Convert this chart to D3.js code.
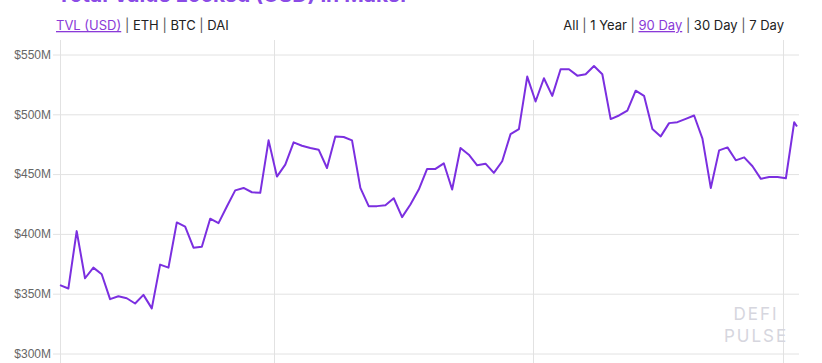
<!DOCTYPE html>
<html>
<head>
<meta charset="utf-8">
<script src="https://cdn.jsdelivr.net/npm/d3@7"></script>
<style>
  body { margin: 0; background: #fff; }
  svg { display: block; }
  .tick text { font-family: "Liberation Sans", Arial, sans-serif; font-size: 12px; fill: #666; }
  .nav { font-family: Inter, "Noto Sans", sans-serif; font-size: 13px; fill: #222; }
  .nav .on { fill: #8a3ad8; text-decoration: underline; }
  .nav .sep { fill: #555; }
</style>
</head>
<body>
<script>
// daily TVL in USD millions, 90 day view (last point is the live value)
var startTime = new Date("2019-09-05T08:00:00Z");
var liveTime = new Date("2019-12-02T16:00:00Z");
var tvl = [
  356.7, 353.9, 401.9, 362.5, 371.4, 365.8, 345.0, 347.5, 345.8, 341.4,
  348.6, 337.3, 373.9, 371.4, 409.2, 405.6, 388.1, 388.9, 412.3, 408.6,
  422.5, 436.0, 438.0, 434.4, 433.9, 477.8, 447.5, 457.5, 476.1, 473.3,
  471.4, 470.0, 454.7, 481.1, 480.6, 477.8, 438.0, 422.8, 422.8, 423.6,
  429.4, 413.6, 424.2, 436.7, 453.9, 453.9, 458.6, 436.7, 471.4, 465.8,
  456.9, 458.3, 450.6, 460.3, 483.0, 487.2, 531.1, 510.3, 529.7, 515.0,
  537.2, 537.2, 531.9, 533.1, 540.0, 533.1, 495.6, 498.6, 502.7, 519.3,
  515.0, 487.2, 481.1, 492.2, 493.0, 495.8, 498.6, 479.2, 438.0, 469.4,
  471.9, 461.1, 463.6, 456.1, 445.6, 447.2, 447.2, 446.1, 493.0, 489.4
];
var yTicks = [300, 350, 400, 450, 500, 550];
var currencyTabs = ["TVL (USD)", "ETH", "BTC", "DAI"];
var rangeTabs = ["All", "1 Year", "90 Day", "30 Day", "7 Day"];
var activeCurrency = "TVL (USD)";
var activeRange = "90 Day";

var data = tvl.map(function(v, i) {
  var t = i < tvl.length - 1 ? d3.utcDay.offset(startTime, i) : liveTime;
  return { t: t, v: v };
});

var W = 822, H = 363;
var svg = d3.select("body").append("svg").attr("width", W).attr("height", H);

var x = d3.scaleUtc().domain([startTime, liveTime]).range([60, 797]);
var y = d3.scaleLinear().domain([300, 550]).range([353, 54]);

// page title, scrolled mostly out of view
svg.append("text")
  .attr("x", 57).attr("y", 1.5)
  .attr("font-family", "Inter, sans-serif").attr("font-size", 21).attr("font-weight", 700)
  .attr("fill", "#8a4be6")
  .text("Total Value Locked (USD) in Maker");

// horizontal grid + y labels
var yAxis = svg.append("g").attr("transform", "translate(60,0.5)")
  .call(d3.axisLeft(y).tickValues(yTicks).tickSize(7).tickPadding(2)
    .tickFormat(function(d) { return "$" + d + "M"; }));
yAxis.select(".domain").remove();
yAxis.selectAll(".tick line").attr("stroke", "#e2e2e2")
  .attr("x1", -7).attr("x2", 739);

// vertical grid at month starts
svg.append("g").selectAll("line")
  .data(d3.utcMonth.range(startTime, liveTime))
  .join("line")
  .attr("x1", function(d) { return Math.round(x(d)) + 0.5; })
  .attr("x2", function(d) { return Math.round(x(d)) + 0.5; })
  .attr("y1", 40).attr("y2", H)
  .attr("stroke", "#e2e2e2");
svg.append("line").attr("x1", 60.5).attr("x2", 60.5).attr("y1", 40).attr("y2", H)
  .attr("stroke", "#e2e2e2");

// watermark
var wm = svg.append("g").attr("font-family", "Inter, sans-serif").attr("font-size", 17)
  .attr("fill", "#d6d6de").attr("text-anchor", "middle").attr("letter-spacing", 2);
wm.append("text").attr("x", 756).attr("y", 320).text("DEFI");
wm.append("text").attr("x", 756).attr("y", 342).text("PULSE");

// line
svg.append("path").datum(data)
  .attr("fill", "none")
  .attr("stroke", "#7b2fe0")
  .attr("stroke-width", 2)
  .attr("stroke-linejoin", "round")
  .attr("d", d3.line().x(function(d) { return x(d.t); }).y(function(d) { return y(d.v); }));

// tab rows
function tabs(list, active, xPos, anchor) {
  var t = svg.append("text").attr("class", "nav").attr("x", xPos).attr("y", 30)
    .attr("text-anchor", anchor);
  list.forEach(function(name, i) {
    if (i > 0) t.append("tspan").attr("class", "sep").text(" | ");
    t.append("tspan").attr("class", name === active ? "on" : null).text(name);
  });
}
tabs(currencyTabs, activeCurrency, 56, "start");
tabs(rangeTabs, activeRange, 784, "end");
</script>
</body>
</html>
